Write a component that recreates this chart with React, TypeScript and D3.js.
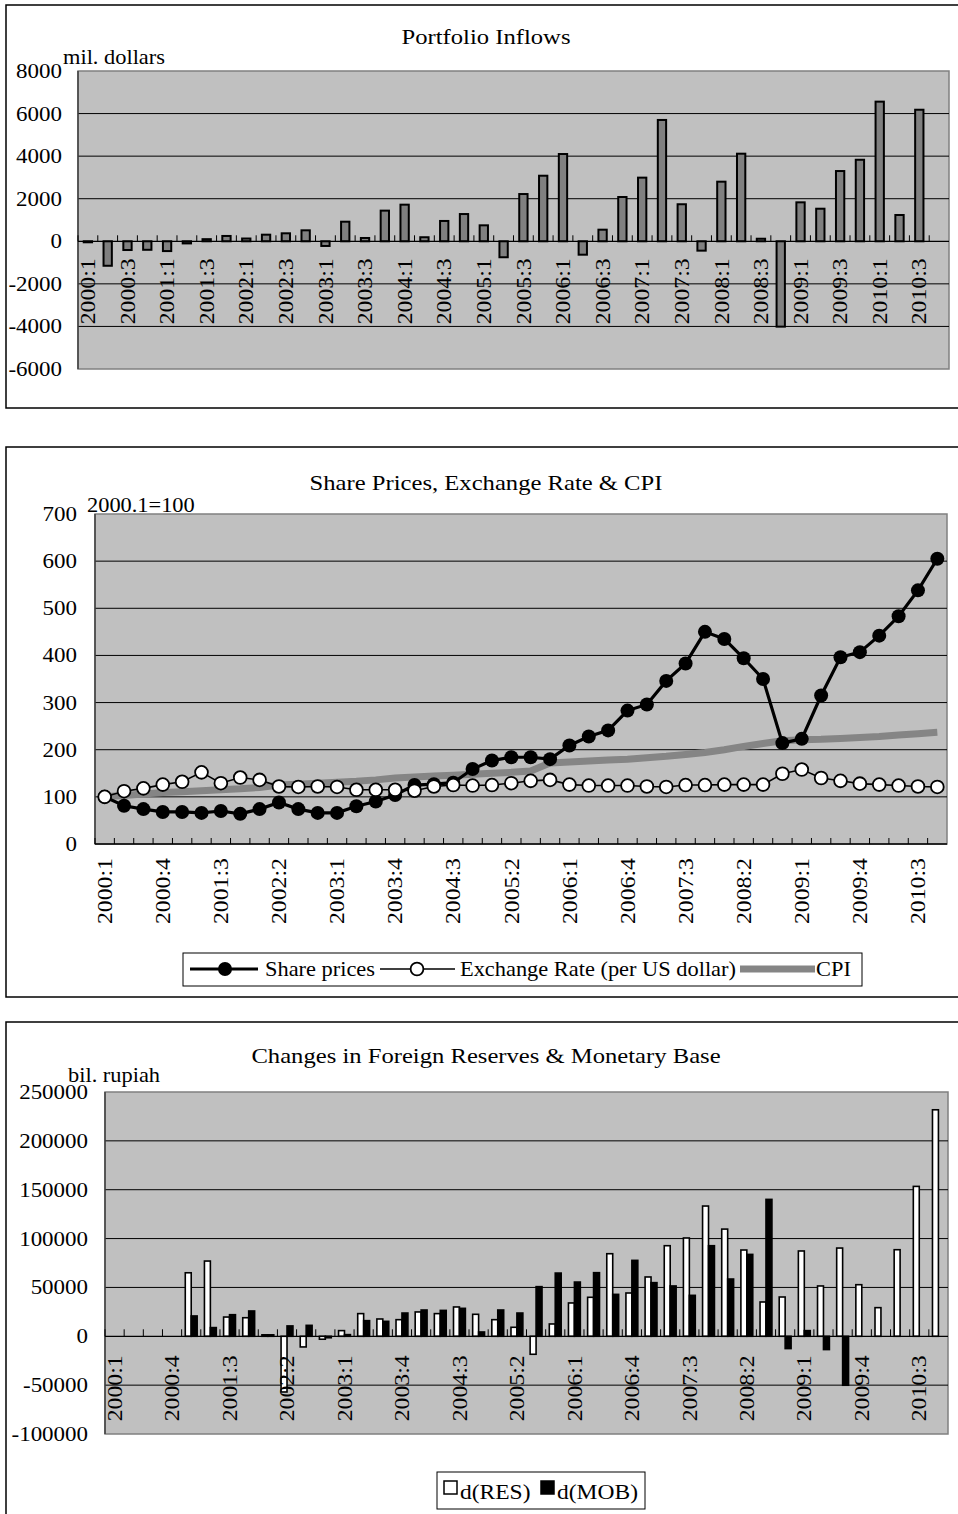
import React from "react";
import * as d3 from "d3";

const quarters = [
  "2000:1","2000:2","2000:3","2000:4","2001:1","2001:2","2001:3","2001:4",
  "2002:1","2002:2","2002:3","2002:4","2003:1","2003:2","2003:3","2003:4",
  "2004:1","2004:2","2004:3","2004:4","2005:1","2005:2","2005:3","2005:4",
  "2006:1","2006:2","2006:3","2006:4","2007:1","2007:2","2007:3","2007:4",
  "2008:1","2008:2","2008:3","2008:4","2009:1","2009:2","2009:3","2009:4",
  "2010:1","2010:2","2010:3","2010:4",
];

// Panel 1: portfolio inflows, mil. dollars
const portfolioInflows: (number | null)[] = [
  -30, -1150, -410, -400, -460, -100, 100, 250, 130, 310, 375, 515,
  -220, 920, 155, 1440, 1720, 190, 955, 1280, 750, -750, 2220, 3080,
  4100, -630, 545, 2080, 2990, 5700, 1740, -440, 2800, 4115, 120, -4010,
  1830, 1530, 3300, 3830, 6560, 1235, 6180, null,
];
const inflowTicks = [-6000, -4000, -2000, 0, 2000, 4000, 6000, 8000];
const inflowLabels = quarters.filter((_, i) => i % 2 === 0);

// Panel 2: indices, 2000.1 = 100
const sharePrices = [
  100, 81, 74, 68, 68, 66, 70, 64, 74, 88, 74, 66, 66, 80, 90, 104,
  125, 127, 130, 159, 177, 184, 184, 180, 209, 228, 241, 283, 296, 346,
  383, 450, 435, 394, 350, 214, 223, 315, 396, 407, 442, 483, 538, 605,
];
const exchangeRate = [
  100, 112, 118, 126, 132, 152, 129, 141, 136, 122, 121, 122, 121, 115,
  115, 115, 113, 122, 125, 124, 125, 129, 134, 136, 126, 124, 124, 124,
  122, 121, 125, 125, 126, 126, 126, 149, 158, 140, 134, 128, 126, 124,
  122, 121,
];
const cpi = [
  100, 103, 106, 109, 111, 113, 115, 117, 120, 125, 127, 129, 131, 133,
  136, 140, 142, 144, 146, 148, 150, 152, 155, 172, 174, 176, 178, 180,
  183, 186, 190, 194, 200, 207, 213, 219, 221, 222, 224, 226, 228, 231,
  234, 237,
];
const indexTicks = [0, 100, 200, 300, 400, 500, 600, 700];
const every3Labels = quarters.filter((_, i) => i % 3 === 0);

// Panel 3: changes, bil. rupiah
const dRES: (number | null)[] = [
  null, null, null, null, 65000, 77000, 19700, 19000, 1500, -57000, -10900,
  -3000, 5800, 23200, 17700, 17000, 24900, 23200, 30000, 22500, 17000, 9200,
  -18400, 12600, 34100, 39900, 84500, 44300, 60700, 92700, 100600, 133300,
  109700, 88300, 35100, 40200, 87300, 51500, 90300, 52800, 29300, 88600,
  153400, 231800,
];
const dMOB: (number | null)[] = [
  null, null, null, null, 20800, 8900, 22100, 25900, 1500, 10600, 11200,
  -1500, 1700, 16000, 15300, 23800, 26900, 26500, 28600, 4400, 26900, 23800,
  50800, 64700, 55500, 65100, 42900, 77700, 54900, 51500, 41900, 92700,
  58600, 83800, 140100, -12600, 5800, -13600, -50100, null, null, null,
  null, null,
];
const changeTicks = [-100000, -50000, 0, 50000, 100000, 150000, 200000, 250000];

const FONT = "'Liberation Serif','Times New Roman',serif";
const BG = "#c0c0c0";

function T({
  x, y, anchor = "start", rot = 0, size = 21, sx = 1.12, dy, children,
}: {
  x: number; y: number; anchor?: string; rot?: number; size?: number; sx?: number; dy?: string; children: React.ReactNode;
}) {
  return (
    <text
      transform={`translate(${x},${y}) rotate(${rot}) scale(${sx},1)`}
      textAnchor={anchor as any}
      fontSize={size}
      fontFamily={FONT}
      dy={dy}
      fill="#000"
    >
      {children}
    </text>
  );
}

function PlotFrame({ x0, x1, y0, y1 }: { x0: number; x1: number; y0: number; y1: number }) {
  return (
    <rect x={x0} y={y0} width={x1 - x0} height={y1 - y0} fill={BG} stroke="#808080" strokeWidth={1.5} />
  );
}

function Panel1() {
  const P = { x0: 78, x1: 949, y0: 71, y1: 369 };
  const x = d3.scaleBand<string>().domain(quarters).range([P.x0, P.x1]);
  const y = d3.scaleLinear().domain([-6000, 8000]).range([P.y1, P.y0]);
  const bw = x.bandwidth();
  const z = y(0);
  return (
    <g>
      <rect x={6} y={5} width={962} height={403} fill="#fff" stroke="#000" strokeWidth={1.5} />
      <T x={486} y={44} anchor="middle" size={22}>Portfolio Inflows</T>
      <T x={63} y={64} size={20}>mil. dollars</T>
      <PlotFrame {...P} />
      {inflowTicks.filter((t) => t !== 0 && t !== 8000 && t !== -6000).map((t) => (
        <line key={t} x1={P.x0} x2={P.x1} y1={y(t)} y2={y(t)} stroke="#000" strokeWidth={1} />
      ))}
      {inflowTicks.map((t) => (
        <T key={t} x={62} y={y(t) + 7} anchor="end" size={20.5}>{t}</T>
      ))}
      <line x1={P.x0} x2={P.x0} y1={P.y0} y2={P.y1} stroke="#404040" strokeWidth={1.5} />
      {portfolioInflows.map((v, i) =>
        v == null ? null : (
          <rect
            key={i}
            x={(x(quarters[i]) as number) + bw / 2 - bw * 0.21}
            y={Math.min(y(v), z)}
            width={bw * 0.42}
            height={Math.max(Math.abs(y(v) - z), 1)}
            fill="#808080"
            stroke="#000"
            strokeWidth={2}
          />
        )
      )}
      <line x1={P.x0} x2={P.x1} y1={z} y2={z} stroke="#000" strokeWidth={1.2} />
      {quarters.map((q) => (
        <line key={q} x1={x(q) as number} x2={x(q) as number} y1={z - 6} y2={z} stroke="#000" strokeWidth={1} />
      ))}
      {inflowLabels.map((q) => (
        <T key={q} x={(x(q) as number) + bw / 2} y={z + 17} rot={-90} anchor="end" size={20.5} sx={1.16} dy="0.35em">
          {q}
        </T>
      ))}
    </g>
  );
}

function Panel2() {
  const P = { x0: 95, x1: 947, y0: 514, y1: 844 };
  const x = d3.scaleBand<string>().domain(quarters).range([P.x0, P.x1]);
  const y = d3.scaleLinear().domain([0, 700]).range([P.y1, P.y0]);
  const bw = x.bandwidth();
  const cx = (i: number) => (x(quarters[i]) as number) + bw / 2;
  const line = d3.line<number>().x((_, i) => cx(i)).y((d) => y(d));
  return (
    <g>
      <rect x={6} y={447} width={962} height={550} fill="#fff" stroke="#000" strokeWidth={1.5} />
      <T x={486} y={490} anchor="middle" size={22}>Share Prices, Exchange Rate &amp; CPI</T>
      <T x={87} y={512} size={20}>2000.1=100</T>
      <PlotFrame {...P} />
      {indexTicks.filter((t) => t !== 0 && t !== 700).map((t) => (
        <line key={t} x1={P.x0} x2={P.x1} y1={y(t)} y2={y(t)} stroke="#000" strokeWidth={1} />
      ))}
      {indexTicks.map((t) => (
        <T key={t} x={77} y={y(t) + 7} anchor="end" size={20.5}>{t}</T>
      ))}
      <line x1={P.x0} x2={P.x0} y1={P.y0} y2={P.y1} stroke="#404040" strokeWidth={1.5} />
      <line x1={P.x0} x2={P.x1} y1={P.y1} y2={P.y1} stroke="#000" strokeWidth={1.5} />
      {quarters.map((q) => (
        <line key={q} x1={x(q) as number} x2={x(q) as number} y1={P.y1 - 6} y2={P.y1} stroke="#000" strokeWidth={1} />
      ))}
      <path d={line(cpi) as string} fill="none" stroke="#858585" strokeWidth={7} />
      <path d={line(sharePrices) as string} fill="none" stroke="#000" strokeWidth={3.2} />
      {sharePrices.map((v, i) => (
        <circle key={i} cx={cx(i)} cy={y(v)} r={7} fill="#000" />
      ))}
      <path d={line(exchangeRate) as string} fill="none" stroke="#000" strokeWidth={1.6} />
      {exchangeRate.map((v, i) => (
        <circle key={i} cx={cx(i)} cy={y(v)} r={6.4} fill="#fff" stroke="#000" strokeWidth={1.8} />
      ))}
      {every3Labels.map((q) => (
        <T key={q} x={(x(q) as number) + bw / 2} y={858} rot={-90} anchor="end" size={20.5} sx={1.16} dy="0.35em">
          {q}
        </T>
      ))}
      {/* legend */}
      <rect x={183} y={953} width={679} height={33} fill="#fff" stroke="#000" strokeWidth={1} />
      <line x1={190} x2={258} y1={969} y2={969} stroke="#000" strokeWidth={3.2} />
      <circle cx={225} cy={969} r={7} fill="#000" />
      <T x={265} y={976} size={20}>Share prices</T>
      <line x1={380} x2={455} y1={969} y2={969} stroke="#000" strokeWidth={1.6} />
      <circle cx={417} cy={969} r={6.4} fill="#fff" stroke="#000" strokeWidth={1.8} />
      <T x={460} y={976} size={20}>Exchange Rate (per US dollar)</T>
      <line x1={740} x2={815} y1={969} y2={969} stroke="#858585" strokeWidth={7} />
      <T x={816} y={976} size={20}>CPI</T>
    </g>
  );
}

function Panel3() {
  const P = { x0: 105, x1: 948, y0: 1092, y1: 1434 };
  const x = d3.scaleBand<string>().domain(quarters).range([P.x0, P.x1]);
  const y = d3.scaleLinear().domain([-100000, 250000]).range([P.y1, P.y0]);
  const bw = x.bandwidth();
  const w = bw * 0.31;
  const z = y(0);
  const bar = (v: number, left: number, fill: string, key: string) => (
    <rect
      key={key}
      x={left}
      y={Math.min(y(v), z)}
      width={w}
      height={Math.max(Math.abs(y(v) - z), 1)}
      fill={fill}
      stroke="#000"
      strokeWidth={1.6}
    />
  );
  return (
    <g>
      <rect x={6} y={1022} width={962} height={520} fill="#fff" stroke="#000" strokeWidth={1.5} />
      <T x={486} y={1063} anchor="middle" size={22}>Changes in Foreign Reserves &amp; Monetary Base</T>
      <PlotFrame {...P} />
      {changeTicks.filter((t) => t !== 0 && t !== 250000 && t !== -100000).map((t) => (
        <line key={t} x1={P.x0} x2={P.x1} y1={y(t)} y2={y(t)} stroke="#000" strokeWidth={1} />
      ))}
      {changeTicks.map((t) => (
        <T key={t} x={88} y={y(t) + 7} anchor="end" size={20.5}>{t}</T>
      ))}
      <T x={68} y={1082} size={20}>bil. rupiah</T>
      <line x1={P.x0} x2={P.x0} y1={P.y0} y2={P.y1} stroke="#404040" strokeWidth={1.5} />
      {quarters.map((q, i) => {
        const c = (x(q) as number) + bw / 2;
        const r = dRES[i];
        const m = dMOB[i];
        return (
          <g key={q}>
            {r == null ? null : bar(r, c - w, "#fff", "r")}
            {m == null ? null : bar(m, c, "#000", "m")}
          </g>
        );
      })}
      <line x1={P.x0} x2={P.x1} y1={z} y2={z} stroke="#000" strokeWidth={1.2} />
      {quarters.map((q) => (
        <line key={q} x1={x(q) as number} x2={x(q) as number} y1={z - 7} y2={z} stroke="#000" strokeWidth={1} />
      ))}
      {every3Labels.map((q) => (
        <T key={q} x={(x(q) as number) + bw / 2} y={z + 19} rot={-90} anchor="end" size={20.5} sx={1.16} dy="0.35em">
          {q}
        </T>
      ))}
      {/* legend */}
      <rect x={437} y={1472} width={208} height={37} fill="#fff" stroke="#000" strokeWidth={1} />
      <rect x={444} y={1481} width={13} height={13} fill="#fff" stroke="#000" strokeWidth={1.5} />
      <T x={460} y={1499} size={21}>d(RES)</T>
      <rect x={541} y={1481} width={13} height={13} fill="#000" stroke="#000" strokeWidth={1.5} />
      <T x={557} y={1499} size={21}>d(MOB)</T>
    </g>
  );
}

export default function App() {
  return (
    <svg
      width={958}
      height={1514}
      viewBox="0 0 958 1514"
      style={{ position: "absolute", left: 0, top: 0, background: "#fff" }}
    >
      <rect x={0} y={0} width={958} height={1514} fill="#fff" />
      <Panel1 />
      <Panel2 />
      <Panel3 />
    </svg>
  );
}
